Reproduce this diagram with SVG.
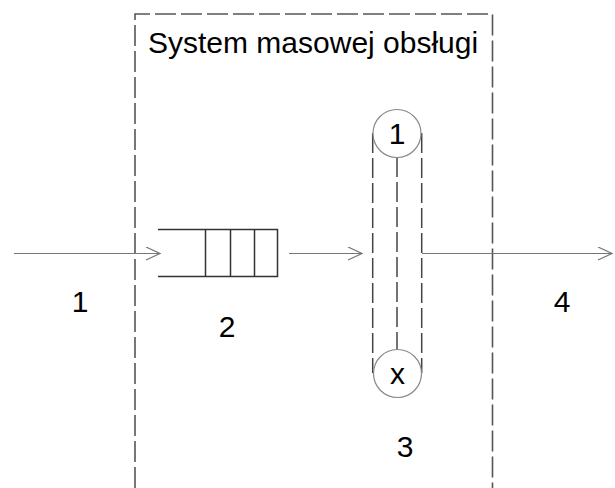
<svg xmlns="http://www.w3.org/2000/svg" width="615" height="488" viewBox="0 0 615 488">
<style>
.t{font-family:"Liberation Sans",Arial,sans-serif;font-size:30px;fill:#000}
.box{fill:none;stroke:#555;stroke-width:1.6;stroke-dasharray:21 5}
.dv{fill:none;stroke:#444;stroke-width:1.5;stroke-dasharray:20 5}
.ln{fill:none;stroke:#777;stroke-width:1.2}
.q{fill:none;stroke:#333;stroke-width:1.5}
.c{fill:#fff;stroke:#888;stroke-width:1.2}
</style>
<defs>
<marker id="ah" markerWidth="16" markerHeight="16" refX="15" refY="7" orient="auto" markerUnits="userSpaceOnUse">
<path d="M1,0.5 L15,7 L1,13.5" fill="none" stroke="#777" stroke-width="1.2"/>
</marker>
</defs>
<g id="system">
<path class="box" d="M135,488 V14 H492.5 V488"/>
<text class="t" x="148" y="53">System masowej obsługi</text>
</g>
<g id="connectors">
<line class="ln" x1="14" y1="253.5" x2="160" y2="253.5" marker-end="url(#ah)"/>
<line class="ln" x1="289" y1="253.5" x2="362" y2="253.5" marker-end="url(#ah)"/>
<line class="ln" x1="422" y1="253.5" x2="612" y2="253.5" marker-end="url(#ah)"/>
</g>
<g id="queue">
<path class="q" d="M158,229.5 H277.5 V276.5 H158 M205.5,229.5 V276.5 M230.5,229.5 V276.5 M254.5,229.5 V276.5"/>
</g>
<g id="servers">
<line class="dv" x1="372.7" y1="133" x2="372.7" y2="373"/>
<line class="dv" x1="421.7" y1="133" x2="421.7" y2="373"/>
<line class="dv" x1="397" y1="157" x2="397" y2="349"/>
<circle class="c" cx="397" cy="133.5" r="24"/>
<text class="t" x="397" y="144" text-anchor="middle">1</text>
<circle class="c" cx="397.5" cy="373.5" r="24"/>
<text class="t" x="397.5" y="384" text-anchor="middle">x</text>
</g>
<g id="labels">
<text class="t" x="80" y="311.7" text-anchor="middle">1</text>
<text class="t" x="227" y="336.7" text-anchor="middle">2</text>
<text class="t" x="405" y="456.7" text-anchor="middle">3</text>
<text class="t" x="562" y="311.7" text-anchor="middle">4</text>
</g>
</svg>
